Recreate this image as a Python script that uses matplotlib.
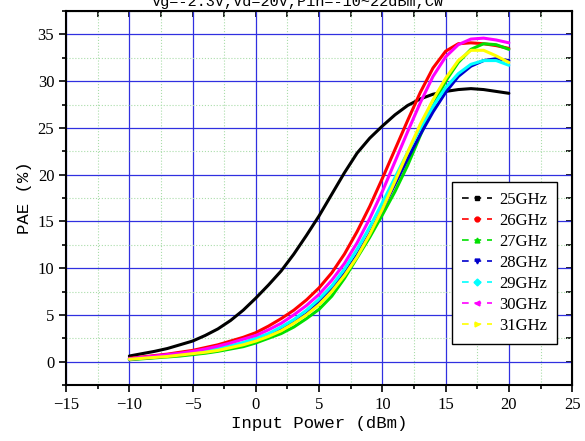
import matplotlib
matplotlib.use("Agg")
import matplotlib.pyplot as plt
from matplotlib.lines import Line2D
from matplotlib.ticker import MultipleLocator

# input power sweep, dBm
pin = list(range(-10, 21))

pae_25 = [0.6, 0.85, 1.1, 1.4, 1.8, 2.2, 2.8, 3.5, 4.4, 5.5, 6.8, 8.2, 9.7, 11.5, 13.5,
          15.6, 17.9, 20.2, 22.3, 23.9, 25.2, 26.4, 27.4, 28.1, 28.6, 28.9, 29.1, 29.2,
          29.1, 28.9, 28.7]
pae_26 = [0.35, 0.5, 0.65, 0.8, 1.0, 1.2, 1.5, 1.8, 2.2, 2.6, 3.1, 3.8, 4.6, 5.5, 6.6,
          7.9, 9.5, 11.5, 13.9, 16.6, 19.6, 22.7, 25.8, 28.8, 31.4, 33.2, 34.0, 34.1,
          34.0, 33.8, 33.5]
pae_27 = [0.2, 0.3, 0.4, 0.5, 0.6, 0.75, 0.9, 1.1, 1.35, 1.6, 2.0, 2.5, 3.0, 3.7, 4.6,
          5.6, 7.0, 8.9, 11.1, 13.3, 15.7, 18.2, 21.0, 24.2, 27.3, 30.0, 32.0, 33.4,
          34.0, 33.9, 33.4]
pae_28 = [0.25, 0.35, 0.45, 0.6, 0.72, 0.88, 1.05, 1.3, 1.6, 1.9, 2.3, 2.8, 3.4, 4.2, 5.1,
          6.3, 7.7, 9.4, 11.4, 13.7, 16.3, 19.0, 21.7, 24.3, 26.7, 28.8, 30.5, 31.6,
          32.2, 32.4, 32.2]
pae_29 = [0.28, 0.4, 0.5, 0.65, 0.8, 0.95, 1.15, 1.4, 1.7, 2.05, 2.5, 3.0, 3.7, 4.5, 5.5,
          6.7, 8.1, 9.9, 12.0, 14.4, 17.0, 19.7, 22.4, 25.0, 27.3, 29.3, 30.8, 31.8,
          32.2, 32.2, 31.7]
pae_30 = [0.3, 0.45, 0.6, 0.75, 0.9, 1.1, 1.35, 1.65, 2.0, 2.4, 2.8, 3.4, 4.1, 5.0, 6.0,
          7.2, 8.7, 10.5, 12.7, 15.3, 18.2, 21.4, 24.6, 27.7, 30.5, 32.6, 33.9, 34.5,
          34.6, 34.4, 34.1]
pae_31 = [0.25, 0.35, 0.45, 0.55, 0.7, 0.85, 1.0, 1.2, 1.5, 1.8, 2.2, 2.7, 3.3, 4.1, 5.0,
          6.1, 7.5, 9.2, 11.2, 13.6, 16.3, 19.3, 22.4, 25.4, 28.0, 30.3, 32.2, 33.3,
          33.3, 32.7, 32.0]

labels = ["25GHz", "26GHz", "27GHz", "28GHz", "29GHz", "30GHz", "31GHz"]
series = [pae_25, pae_26, pae_27, pae_28, pae_29, pae_30, pae_31]
colors = ["black", "#ff0000", "#00e000", "#0000cc", "#00ffff", "#ff00ff", "#ffff00"]
markers = ["s", "o", "^", "v", "D", "<", ">"]

fig = plt.figure(figsize=(5.85, 4.41), dpi=100)
ax = fig.add_axes([0.113, 0.127, 0.865, 0.848])

for y, c in zip(series, colors):
    ax.plot(pin, y, color=c, lw=2.2, solid_capstyle="round", zorder=3)

ax.set_xlim(-15, 25)
ax.set_ylim(-2.5, 37.5)
ax.xaxis.set_major_locator(MultipleLocator(5))
ax.xaxis.set_minor_locator(MultipleLocator(2.5))
ax.yaxis.set_major_locator(MultipleLocator(5))
ax.yaxis.set_minor_locator(MultipleLocator(2.5))

ax.grid(which="major", color="#3030e0", lw=0.9, zorder=1)
ax.grid(which="minor", color="#aaddaa", lw=0.8, ls=":", zorder=1)
ax.set_axisbelow(True)

for s in ax.spines.values():
    s.set_linewidth(1.5)

ax.tick_params(which="both", direction="out", width=1.2, labelsize=12,
               top=False, right=False)
ax.tick_params(which="major", length=5)
ax.tick_params(which="minor", length=3)
# inward ticks on top and right
ax2 = ax.secondary_xaxis("top")
ax2.xaxis.set_major_locator(MultipleLocator(2.5))
ax2.tick_params(direction="in", length=4, width=1.2, labeltop=False)
ax3 = ax.secondary_yaxis("right")
ax3.yaxis.set_major_locator(MultipleLocator(2.5))
ax3.tick_params(direction="in", length=4, width=1.2, labelright=False)

for lab in ax.get_xticklabels() + ax.get_yticklabels():
    lab.set_family("Liberation Serif")

ax.set_xlabel("Input Power (dBm)", family="Liberation Mono", fontsize=12.5, labelpad=2)
ax.set_ylabel("PAE (%)", family="Liberation Mono", fontsize=12.5, labelpad=4)

fig.text(0.51, 0.995, "Vg=-2.3V,Vd=20V,Pin=-10~22dBm,CW", family="Liberation Mono",
         fontsize=11, ha="center", va="center")

handles = [Line2D([], [], color=c, lw=1.2, ls=(0, (4, 3.5)), marker=m, markersize=3.5)
           for c, m in zip(colors, markers)]
leg = ax.legend(handles, labels, loc="lower right", bbox_to_anchor=(0.97, 0.11),
                prop={"family": "Liberation Serif", "size": 12}, frameon=True,
                fancybox=False, edgecolor="black", framealpha=1, borderpad=0.6,
                labelspacing=0.3, handlelength=1.8, handletextpad=0.4,
                borderaxespad=0)
leg.get_frame().set_linewidth(1.0)

fig.savefig("out.png", dpi=100)
